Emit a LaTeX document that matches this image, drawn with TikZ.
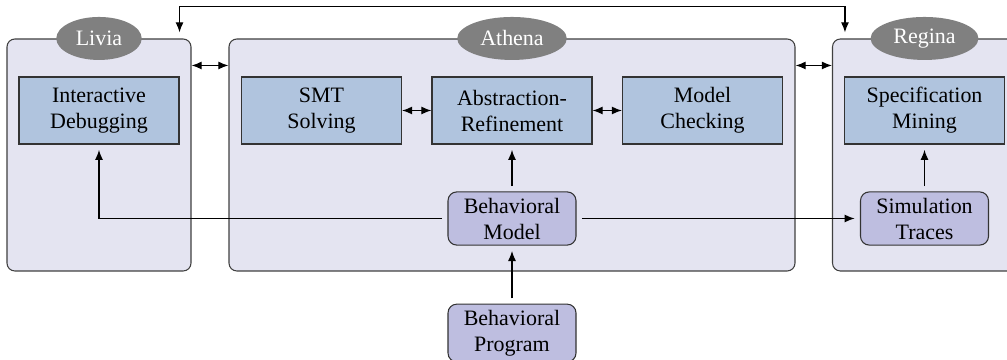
\documentclass[tikz,border=0pt]{standalone}
\usepackage{fontspec}
\setmainfont{Liberation Serif}
\usetikzlibrary{arrows.meta,positioning,calc,shapes.geometric}
\definecolor{toolBg}{RGB}{228,228,241}
\definecolor{techFill}{RGB}{176,196,222}
\definecolor{artFill}{RGB}{190,190,224}
\definecolor{nameFill}{RGB}{128,128,128}

\begin{document}
\begin{tikzpicture}[
    every node/.style={font=\fontsize{12.5}{14.8}\selectfont},
    >={Latex[length=5.8pt,width=4.6pt]},
    tool/.style={draw=black!75, line width=0.6pt, rectangle, rounded corners=4.5pt,
                minimum width=36.8mm, minimum height=46.4mm, fill=toolBg},
    toolname/.style={ellipse, fill=nameFill, text=white,
                inner xsep=4pt, inner ysep=1pt, minimum height=8.6mm},
    tech/.style={draw=black!80, line width=0.6pt, rectangle,
                minimum width=32mm, minimum height=13.4mm,
                fill=techFill, align=center},
    artifact/.style={draw=black!80, line width=0.6pt, rectangle, rounded corners=5pt,
                minimum width=25.6mm, minimum height=10.2mm,
                fill=artFill, align=center},
    arrow/.style={->, line width=0.75pt, shorten >=3pt, shorten <=3pt},
    dblarrow/.style={<->, line width=0.75pt}
]
  \clip (0,0) rectangle (20.14,-7.2);

  % --- Tool containers with their name tags ---
  \node[tool] (livia) at (1.98,-3.10) {};
  \node[tool, minimum width=113.2mm] (athena) at (10.24,-3.10) {};
  \node[tool] (regina) at (18.49,-3.10) {};

  \node[toolname] (liviaName)  at (livia.north)  {Livia};
  \node[toolname] (athenaName) at (athena.north) {Athena};
  \node[toolname] (reginaName) at (regina.north) {Regina};

  % --- Techniques (top row) ---
  \node[tech] (debug)    at (1.98,-2.21)  {Interactive\\Debugging};
  \node[tech] (smt)      at (6.43,-2.21)  {SMT\\Solving};
  \node[tech] (absref)   at (10.24,-2.21) {Abstraction-\\Refinement};
  \node[tech] (mc)       at (14.05,-2.21) {Model\\Checking};
  \node[tech] (specmine) at (18.49,-2.21) {Specification\\Mining};

  % --- Artifacts ---
  \node[artifact] (bmodel) at (10.24,-4.37) {Behavioral\\Model};
  \node[artifact] (bprog)  at (10.24,-6.66) {Behavioral\\Program};
  \node[artifact] (simtr)  at (18.49,-4.37) {Simulation\\Traces};

  % --- Links between tools ---
  \draw[dblarrow] ([yshift=-5.4mm]livia.north east) -- ([yshift=-5.4mm]athena.north west);
  \draw[dblarrow] ([yshift=-5.4mm]athena.north east) -- ([yshift=-5.4mm]regina.north west);

  \coordinate (liviaTop)  at ($(livia.north east)+(-0.24,0.12)$);
  \coordinate (reginaTop) at ($(regina.north west)+(0.26,0.12)$);
  \draw[dblarrow] (liviaTop) -- ++(0,0.52) -| (reginaTop);

  % --- Inside Athena ---
  \draw[dblarrow] (smt) -- (absref);
  \draw[dblarrow] (absref) -- (mc);

  % --- Behavioral model feeds everything ---
  \draw[arrow] (bprog) -- (bmodel);
  \draw[arrow] (bmodel) -- (absref);
  \draw[arrow] (bmodel.west) -| (debug.south);
  \draw[arrow] (bmodel.east) -- (simtr.west);
  \draw[arrow] (simtr) -- (specmine);
\end{tikzpicture}
\end{document}
